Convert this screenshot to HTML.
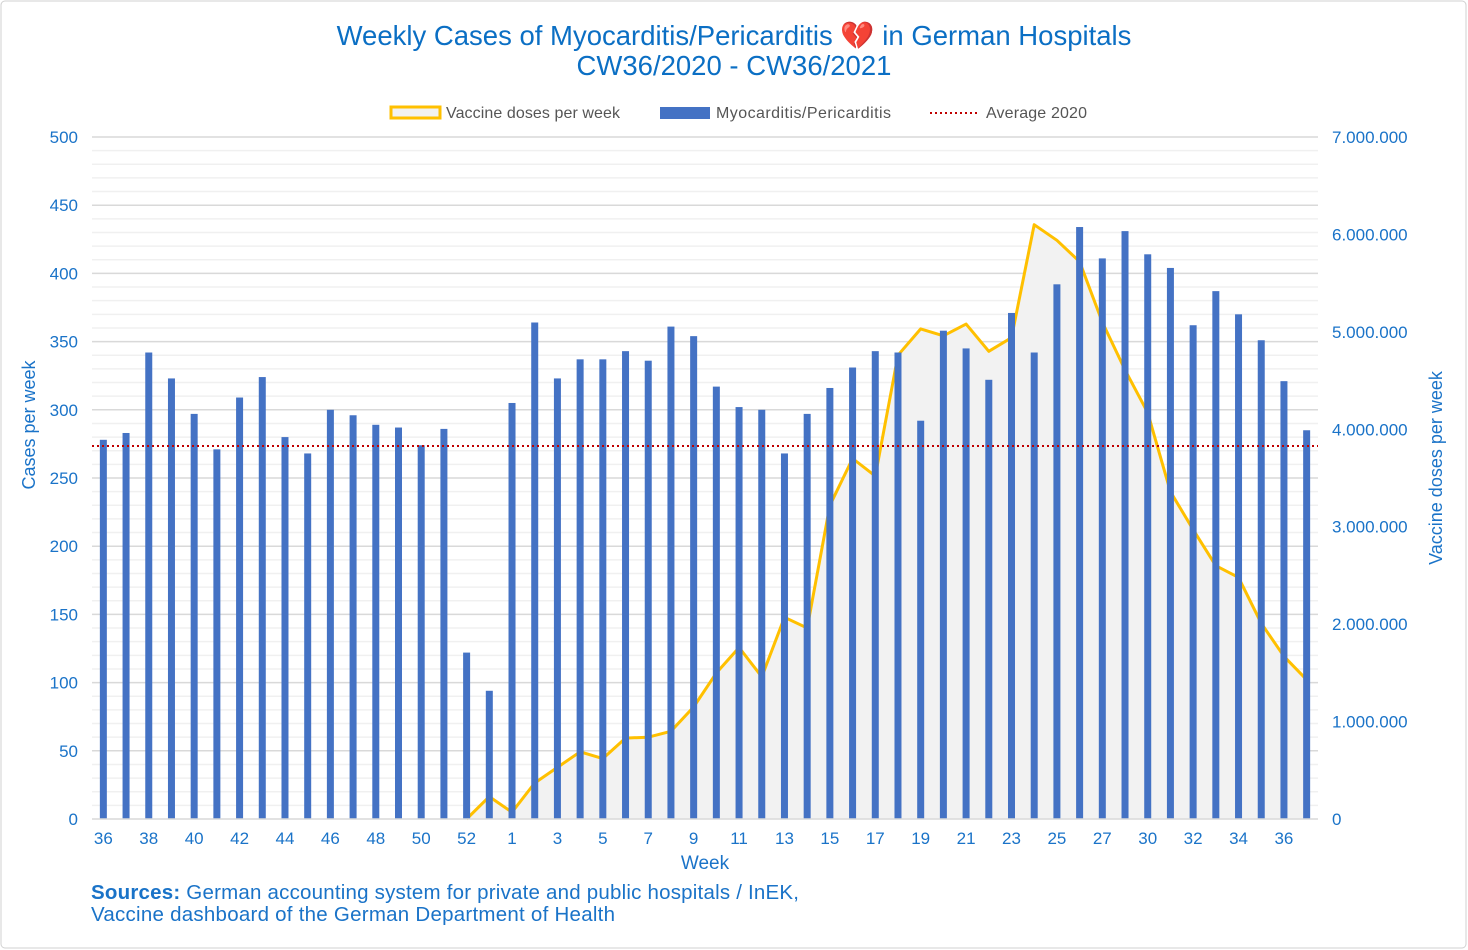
<!DOCTYPE html>
<html><head><meta charset="utf-8"><style>
body{margin:0;background:#fff;}
svg{display:block;font-family:"Liberation Sans",Arial,sans-serif;}
</style></head><body>
<svg id="chart" width="1468" height="950">
<rect x="1" y="1" width="1465" height="947" rx="4" fill="#fff" stroke="#d0d0d0"/>
<text x="734" y="45" text-anchor="middle" font-size="27.5" fill="#0b6fc4">Weekly Cases of Myocarditis/Pericarditis <tspan font-family="DejaVu Sans" fill="#c0392b">💔</tspan> in German Hospitals</text>
<text x="734" y="75" text-anchor="middle" font-size="27.5" fill="#0b6fc4">CW36/2020 - CW36/2021</text>
<g id="grid"></g><g id="area"></g><g id="bars"></g><g id="axes"></g>
<g>
<rect x="391" y="107" width="49" height="11" fill="#f2f2f2" stroke="#ffc000" stroke-width="3"/>
<text x="446" y="118" font-size="16" fill="#555" textLength="174">Vaccine doses per week</text>
<rect x="660" y="107" width="50" height="12" fill="#4472c4"/>
<text x="716" y="118" font-size="16" fill="#555" textLength="175">Myocarditis/Pericarditis</text>
<line x1="930" y1="113" x2="980" y2="113" stroke="#c00000" stroke-width="2" stroke-dasharray="2,3"/>
<text x="986" y="118" font-size="16" fill="#555" textLength="101">Average 2020</text>
</g>
<text transform="translate(35,425) rotate(-90)" text-anchor="middle" font-size="18" fill="#1a73c8">Cases per week</text>
<text transform="translate(1442,468) rotate(-90)" text-anchor="middle" font-size="18" fill="#1a73c8">Vaccine doses per week</text>
<text x="705" y="869" text-anchor="middle" font-size="19" fill="#1a73c8">Week</text>
<text x="91" y="899" font-size="20.5" fill="#1a73c8" textLength="708"><tspan font-weight="bold">Sources:</tspan> German accounting system for private and public hospitals / InEK,</text>
<text x="91" y="921" font-size="20.5" fill="#1a73c8" textLength="524">Vaccine dashboard of the German Department of Health</text>
</svg>
<script>
const weeks=[36,37,38,39,40,41,42,43,44,45,46,47,48,49,50,51,52,53,1,2,3,4,5,6,7,8,9,10,11,12,13,14,15,16,17,18,19,20,21,22,23,24,25,26,27,29,30,31,32,33,34,35,36,37];
const cases=[278,283,342,323,297,271,309,324,280,268,300,296,289,287,274,286,122,94,305,364,323,337,337,343,336,361,354,317,302,300,268,297,316,331,343,342,292,358,345,322,371,342,392,434,411,431,414,404,362,387,370,351,321,285];
const vaccStart=16;
const vaccine=[0,0.23,0.07,0.37,0.53,0.69,0.62,0.83,0.84,0.90,1.15,1.50,1.76,1.46,2.07,1.96,3.22,3.70,3.52,4.76,5.03,4.96,5.08,4.80,4.94,6.10,5.94,5.72,5.10,4.61,4.17,3.36,2.97,2.60,2.48,2.01,1.67,1.43];
const average2020=273.5;
const leftTicks=[0,50,100,150,200,250,300,350,400,450,500];
const rightTicks=[0,1,2,3,4,5,6,7];
const rightTickLabels=["0","1.000.000","2.000.000","3.000.000","4.000.000","5.000.000","6.000.000","7.000.000"];

const X0=92,X1=1318,Y0=819,Y1=137;
const band=(X1-X0)/weeks.length;
const xc=i=>X0+band*(i+0.5);
const yL=v=>Y0-(v/500)*(Y0-Y1);
const yR=v=>Y0-(v/7)*(Y0-Y1);
const NS="http://www.w3.org/2000/svg";
function mk(t,a,p){const e=document.createElementNS(NS,t);for(const k in a)e.setAttribute(k,a[k]);p.appendChild(e);return e;}
const grid=document.getElementById('grid'),area=document.getElementById('area'),bars=document.getElementById('bars'),axes=document.getElementById('axes');
for(let v=10;v<=500;v+=10){
 if(v%50===0)continue;
 const l=mk('line',{x1:X0,x2:X1,y1:yL(v),y2:yL(v),stroke:'#f0f0f0','stroke-width':1.5},grid);
 
 
}
leftTicks.forEach(v=>{
 if(v>0){const l=mk('line',{x1:X0,x2:X1,y1:yL(v),y2:yL(v),stroke:'#d9d9d9','stroke-width':1.5},grid);
 
 }
 const t=mk('text',{x:78,y:yL(v)+6,'text-anchor':'end','font-size':17,fill:'#1a73c8'},axes);t.textContent=v;
 
 
});
rightTicks.forEach((v,i)=>{
 const t=mk('text',{x:1332,y:yR(v)+6,'font-size':17,fill:'#1a73c8'},axes);t.textContent=rightTickLabels[i];
 
 
});
let pts=vaccine.map((v,j)=>[xc(j+vaccStart),yR(v)]);
let d='M'+pts.map(p=>p[0].toFixed(1)+','+p[1].toFixed(1)).join(' L');
const ar=mk('path',{d:d+` L${pts[pts.length-1][0]},${Y0} L${pts[0][0]},${Y0} Z`,fill:'#f2f2f2'},area);


const ln=mk('path',{d:d,fill:'none',stroke:'#ffc000','stroke-width':3,'stroke-linejoin':'round'},area);


cases.forEach((v,i)=>{
 const b=mk('rect',{x:xc(i)-3.5,y:yL(v),width:7,height:Y0-yL(v),fill:'#4472c4'},bars);
 
 
});
const ax=mk('line',{x1:X0,x2:X1,y1:Y0,y2:Y0,stroke:'#d9d9d9','stroke-width':1.5},axes);


weeks.forEach((w,i)=>{
 if(i%2)return;
 const t=mk('text',{x:xc(i),y:844,'text-anchor':'middle','font-size':17,fill:'#1a73c8'},axes);t.textContent=w;
 
 
});
const av=mk('line',{x1:X0,x2:X1,y1:yL(average2020),y2:yL(average2020),stroke:'#c00000','stroke-width':2,'stroke-dasharray':'2,3'},axes);


</script>
</body></html>
